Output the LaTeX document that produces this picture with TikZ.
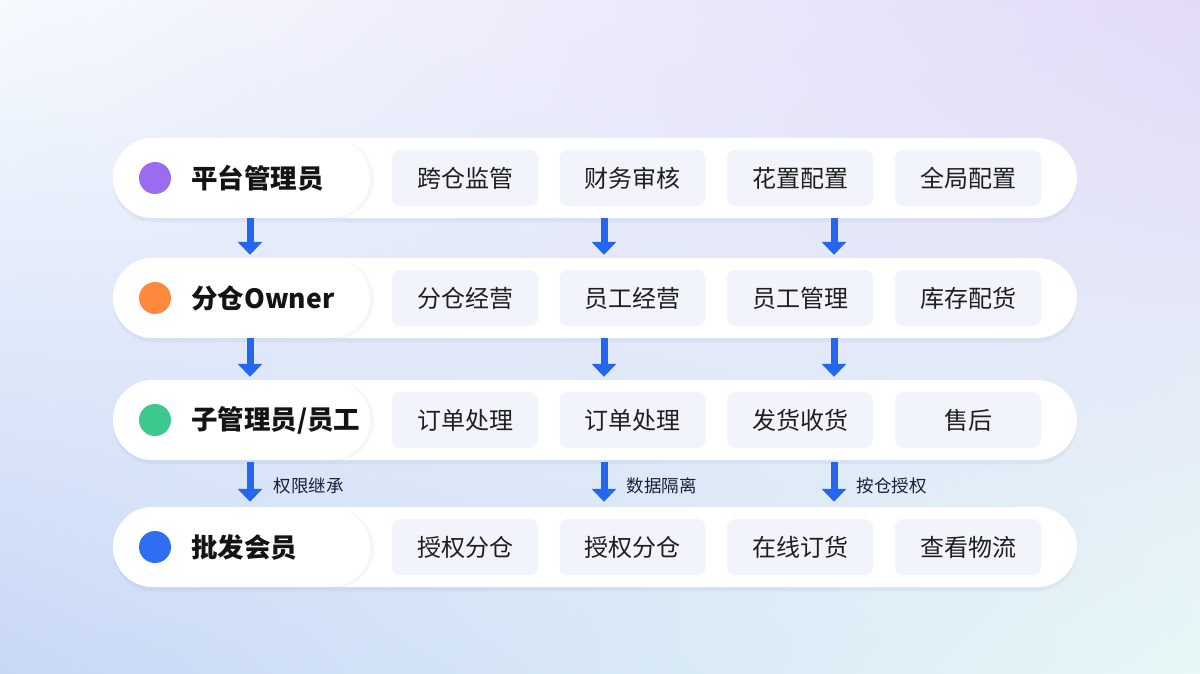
\documentclass[tikz,border=0pt]{standalone}
\usepackage{fontspec}
\setmainfont{Noto Sans CJK SC}
\usetikzlibrary{shadows,shadings,calc,arrows.meta}
\definecolor{bgTL}{HTML}{F6FAFE}
\definecolor{bgTR}{HTML}{E3DAF8}
\definecolor{bgBL}{HTML}{C8D7F6}
\definecolor{bgBR}{HTML}{E6F8F7}
\definecolor{cPurple}{HTML}{9A6CF0}
\definecolor{cOrange}{HTML}{FF8A3D}
\definecolor{cGreen}{HTML}{3CC98E}
\definecolor{cBlue}{HTML}{2F6EF0}
\definecolor{subFill}{HTML}{F1F4FB}
\definecolor{arrBlue}{HTML}{2466EE}
\definecolor{lblText}{HTML}{18203A}
\definecolor{shadowC}{HTML}{6E86C8}
\begin{document}
\begin{tikzpicture}[x=1pt,y=-1pt,
  bar/.style={fill=white, draw=none, rounded corners=40pt, minimum width=964pt, minimum height=80pt, inner sep=0pt,
    drop shadow={shadow xshift=0pt, shadow yshift=-4pt, opacity=0.09, fill=shadowC}},
  pill/.style={fill=white, draw=none, rounded corners=40pt, minimum width=257pt, minimum height=80pt, inner sep=0pt, anchor=west,
    drop shadow={shadow xshift=4pt, shadow yshift=-1pt, opacity=0.06, fill=shadowC}},
  dot/.style={circle, draw=none, inner sep=0pt, minimum size=32pt},
  title/.style={anchor=west, inner sep=0pt, text=black!92, font=\bfseries\fontsize{26.5}{26.5}\selectfont},
  subbox/.style={fill=subFill, draw=none, rounded corners=8pt, minimum width=146pt, minimum height=56pt, inner sep=0pt,
    text=black!88, font=\fontsize{24}{24}\selectfont},
  flow/.style={draw=arrBlue, line width=7pt, -{Triangle[width=24pt,length=13pt]}},
  lbl/.style={text=lblText, inner sep=0pt, anchor=west, font=\fontsize{17.5}{17.5}\selectfont}
]
\useasboundingbox (0,0) rectangle (1200,674);
\shade[upper left=bgTL, upper right=bgTR, lower left=bgBL, lower right=bgBR] (0,0) rectangle (1200,674);

% row bars
\node[bar] (r1) at (595,178) {};
\node[bar] (r2) at (595,298) {};
\node[bar] (r3) at (595,420) {};
\node[bar] (r4) at (595,547) {};

% left pills
\node[pill] (p1) at (r1.west) {};
\node[pill] (p2) at (r2.west) {};
\node[pill] (p3) at (r3.west) {};
\node[pill] (p4) at (r4.west) {};

% dots and titles
\node[dot, fill=cPurple] (d1) at (155,178) {};
\node[dot, fill=cOrange] (d2) at (155,298) {};
\node[dot, fill=cGreen]  (d3) at (155,420) {};
\node[dot, fill=cBlue]   (d4) at (155,547) {};
\node[title] (t1) at (191,178) {平台管理员};
\node[title] (t2) at (191,298) {分仓Owner};
\node[title] (t3) at (191,420) {子管理员/员工};
\node[title] (t4) at (191,547) {批发会员};

% sub boxes
\node[subbox] (s11) at (465,178) {跨仓监管};
\node[subbox] (s12) at (632.5,178) {财务审核};
\node[subbox] (s13) at (800,178) {花置配置};
\node[subbox] (s14) at (968,178) {全局配置};

\node[subbox] (s21) at (465,298) {分仓经营};
\node[subbox] (s22) at (632.5,298) {员工经营};
\node[subbox] (s23) at (800,298) {员工管理};
\node[subbox] (s24) at (968,298) {库存配货};

\node[subbox] (s31) at (465,420) {订单处理};
\node[subbox] (s32) at (632.5,420) {订单处理};
\node[subbox] (s33) at (800,420) {发货收货};
\node[subbox] (s34) at (968,420) {售后};

\node[subbox] (s41) at (465,547) {授权分仓};
\node[subbox] (s42) at (632.5,547) {授权分仓};
\node[subbox] (s43) at (800,547) {在线订货};
\node[subbox] (s44) at (968,547) {查看物流};

% arrow columns
\coordinate (xa) at (250,0);
\coordinate (xb) at (604,0);
\coordinate (xc) at (834,0);

\draw[flow, shorten >=3pt] (r1.south -| xa) -- (r2.north -| xa);
\draw[flow, shorten >=3pt] (r1.south -| xb) -- (r2.north -| xb);
\draw[flow, shorten >=3pt] (r1.south -| xc) -- (r2.north -| xc);

\draw[flow, shorten >=3pt] (r2.south -| xa) -- (r3.north -| xa);
\draw[flow, shorten >=3pt] (r2.south -| xb) -- (r3.north -| xb);
\draw[flow, shorten >=3pt] (r2.south -| xc) -- (r3.north -| xc);

\draw[flow, shorten <=2pt, shorten >=5pt] (r3.south -| xa) -- (r4.north -| xa)
  node[lbl, pos=0.55, xshift=20pt] (l1) {权限继承};
\draw[flow, shorten <=2pt, shorten >=5pt] (r3.south -| xb) -- (r4.north -| xb)
  node[lbl, pos=0.55, xshift=19pt] (l2) {数据隔离};
\draw[flow, shorten <=2pt, shorten >=5pt] (r3.south -| xc) -- (r4.north -| xc)
  node[lbl, pos=0.55, xshift=19pt] (l3) {按仓授权};
\end{tikzpicture}
\end{document}
